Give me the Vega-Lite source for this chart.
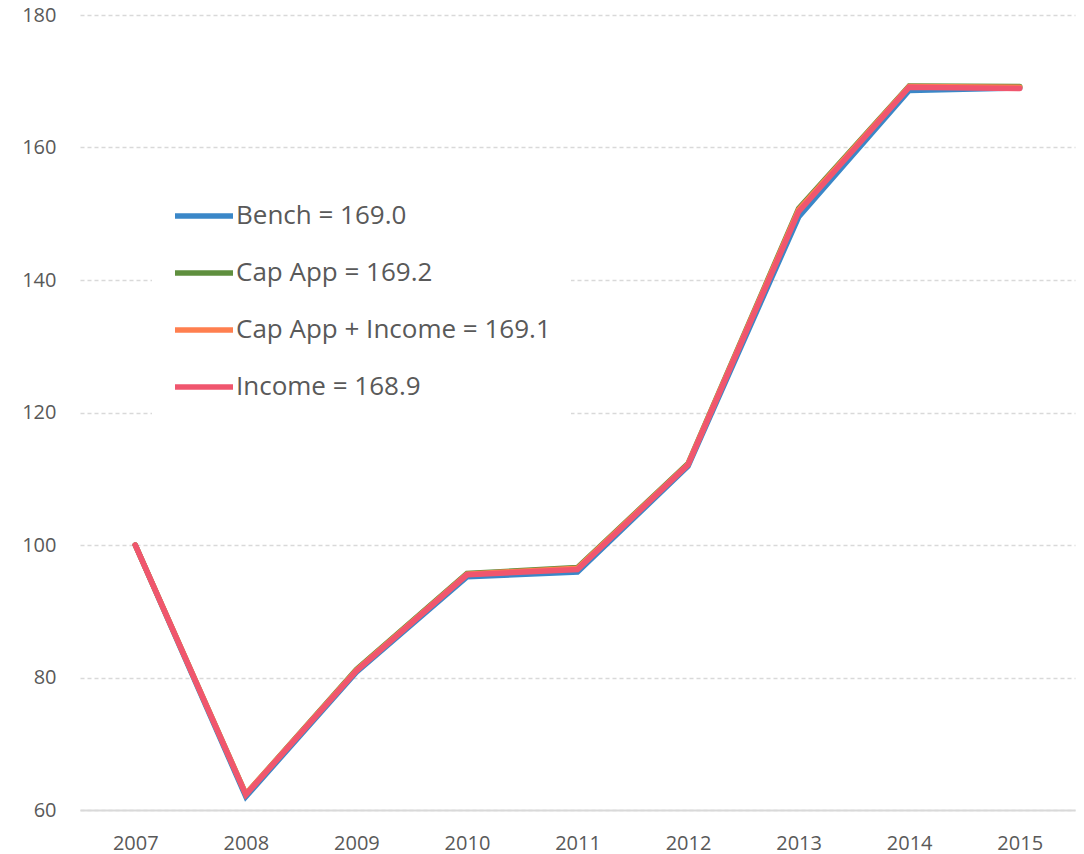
{
  "$schema": "https://vega.github.io/schema/vega-lite/v6.json",
  "width": 995,
  "height": 795,
  "autosize": {"type": "none"},
  "padding": {"left": 80, "top": 15, "right": 9, "bottom": 44},
  "background": "white",
  "config": {
    "view": {"stroke": null},
    "font": "Open Sans"
  },
  "data": {
    "values": [
      {"year": "2007", "series": "Bench = 169.0", "value": 100},
      {"year": "2008", "series": "Bench = 169.0", "value": 62.0},
      {"year": "2009", "series": "Bench = 169.0", "value": 80.8},
      {"year": "2010", "series": "Bench = 169.0", "value": 95.2},
      {"year": "2011", "series": "Bench = 169.0", "value": 95.9},
      {"year": "2012", "series": "Bench = 169.0", "value": 111.9},
      {"year": "2013", "series": "Bench = 169.0", "value": 149.5},
      {"year": "2014", "series": "Bench = 169.0", "value": 168.6},
      {"year": "2015", "series": "Bench = 169.0", "value": 169.0},
      {"year": "2007", "series": "Cap App = 169.2", "value": 100},
      {"year": "2008", "series": "Cap App = 169.2", "value": 62.4},
      {"year": "2009", "series": "Cap App = 169.2", "value": 81.2},
      {"year": "2010", "series": "Cap App = 169.2", "value": 95.7},
      {"year": "2011", "series": "Cap App = 169.2", "value": 96.6},
      {"year": "2012", "series": "Cap App = 169.2", "value": 112.3},
      {"year": "2013", "series": "Cap App = 169.2", "value": 150.8},
      {"year": "2014", "series": "Cap App = 169.2", "value": 169.3},
      {"year": "2015", "series": "Cap App = 169.2", "value": 169.2},
      {"year": "2007", "series": "Cap App + Income = 169.1", "value": 100},
      {"year": "2008", "series": "Cap App + Income = 169.1", "value": 62.4},
      {"year": "2009", "series": "Cap App + Income = 169.1", "value": 81.1},
      {"year": "2010", "series": "Cap App + Income = 169.1", "value": 95.6},
      {"year": "2011", "series": "Cap App + Income = 169.1", "value": 96.5},
      {"year": "2012", "series": "Cap App + Income = 169.1", "value": 112.2},
      {"year": "2013", "series": "Cap App + Income = 169.1", "value": 150.6},
      {"year": "2014", "series": "Cap App + Income = 169.1", "value": 169.2},
      {"year": "2015", "series": "Cap App + Income = 169.1", "value": 169.1},
      {"year": "2007", "series": "Income = 168.9", "value": 100},
      {"year": "2008", "series": "Income = 168.9", "value": 62.3},
      {"year": "2009", "series": "Income = 168.9", "value": 81.0},
      {"year": "2010", "series": "Income = 168.9", "value": 95.5},
      {"year": "2011", "series": "Income = 168.9", "value": 96.3},
      {"year": "2012", "series": "Income = 168.9", "value": 112.1},
      {"year": "2013", "series": "Income = 168.9", "value": 150.3},
      {"year": "2014", "series": "Income = 168.9", "value": 169.1},
      {"year": "2015", "series": "Income = 168.9", "value": 168.9}
    ]
  },
  "mark": {"type": "line", "strokeWidth": 5.5, "strokeCap": "round", "strokeJoin": "miter"},
  "encoding": {
    "x": {
      "field": "year", "type": "ordinal",
      "scale": {"type": "point", "padding": 0.5},
      "axis": {"title": null, "labelAngle": 0, "ticks": false, "domain": true, "domainColor": "#d9d9d9", "domainWidth": 2, "labelPadding": 23, "grid": false, "labelFontSize": 20, "labelColor": "#595959", "labelFont": "Open Sans"}
    },
    "y": {
      "field": "value", "type": "quantitative",
      "scale": {"domain": [60, 180], "nice": false, "zero": false},
      "axis": {"title": null, "values": [60, 80, 100, 120, 140, 160, 180], "ticks": false, "domain": false, "labelPadding": 24, "gridColor": "#d9d9d9", "gridDash": [4, 3], "gridWidth": 1.5, "labelFontSize": 20, "labelColor": "#595959", "labelFont": "Open Sans"}
    },
    "color": {
      "field": "series", "type": "nominal",
      "scale": {
        "domain": ["Bench = 169.0", "Cap App = 169.2", "Cap App + Income = 169.1", "Income = 168.9"],
        "range": ["#3a87c8", "#5f8f3e", "#ff7f4f", "#f0566e"]
      },
      "legend": {
        "title": null,
        "orient": "none",
        "legendX": 72,
        "legendY": 149,
        "padding": 20,
        "fillColor": "white",
        "symbolType": "stroke",
        "symbolSize": 3364,
        "symbolStrokeWidth": 5.5,
        "labelFontSize": 26,
        "labelColor": "#595959",
        "labelFont": "Open Sans",
        "labelOffset": 0,
        "labelLimit": 500,
        "rowPadding": 12
      }
    }
  }
}
